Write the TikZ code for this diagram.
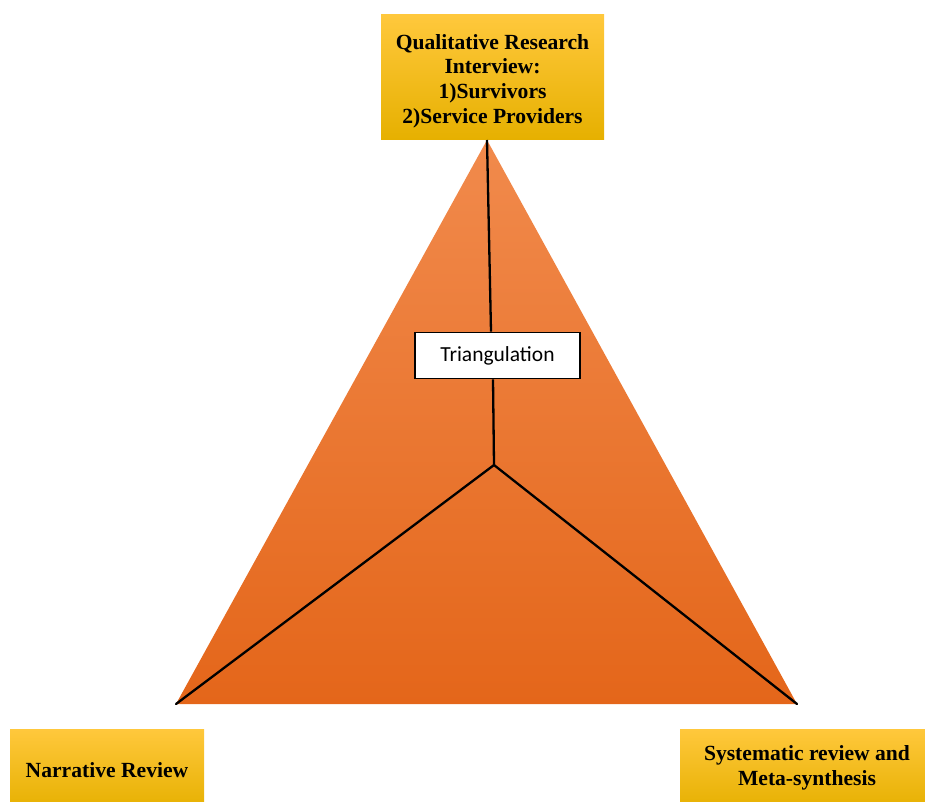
\documentclass[tikz,border=0pt]{standalone}
\usepackage{fontspec}
\setmainfont{Liberation Serif}
\newfontfamily\calibrifont{Carlito}
\definecolor{yelTop}{RGB}{255,200,60}
\definecolor{yelMid}{RGB}{255,192,0}
\definecolor{yelBot}{RGB}{230,176,0}
\definecolor{orTop}{RGB}{241,138,76}
\definecolor{orMid}{RGB}{243,122,38}
\definecolor{orBot}{RGB}{228,102,26}
\tikzset{
  labelshade/.style={top color=yelTop, middle color=yelMid, bottom color=yelBot},
  labeltext/.style={font=\fontsize{21.6}{24.6}\selectfont\bfseries, align=center, text=black, inner sep=0pt},
  tribox/.style={rectangle, draw=black, line width=1.6pt, fill=white, minimum width=165pt, minimum height=46pt, inner sep=0pt, font=\calibrifont\fontsize{21.5}{24}\selectfont},
  spoke/.style={draw=black, line width=2.3pt}
}
\begin{document}
\begin{tikzpicture}[x=1pt,y=-1pt]
\useasboundingbox (0,0) rectangle (925,802);
% triangle body
\coordinate (apex) at (487,140);
\coordinate (bl) at (176,704);
\coordinate (br) at (797,704);
\coordinate (hub) at (494,465);
\shade[top color=orTop, middle color=orMid, bottom color=orBot] (apex) -- (br) -- (bl) -- cycle;
% label boxes
\shade[labelshade] (381,15) rectangle (604,140);
\node[labeltext] (qual) at (492.5,81) {Qualitative Research\\Interview:\\1)Survivors\\2)Service Providers};
\shade[labelshade] (10,729) rectangle (204,810);
\node[labeltext] (narr) at (107,770) {Narrative Review};
\shade[labelshade] (680,729) rectangle (930,810);
\node[labeltext] (syst) at (807,768) {Systematic review and\\Meta-synthesis};
% spokes
\node[tribox] (tri) at (497.5,355.5) {Triangulation};
\draw[spoke] (apex) -- (tri.north -| 491,0);
\draw[spoke] (tri.south -| 493,0) -- (hub);
\draw[spoke, line cap=round] (hub) -- (bl);
\draw[spoke, line cap=round] (hub) -- (br);
\end{tikzpicture}
\end{document}
